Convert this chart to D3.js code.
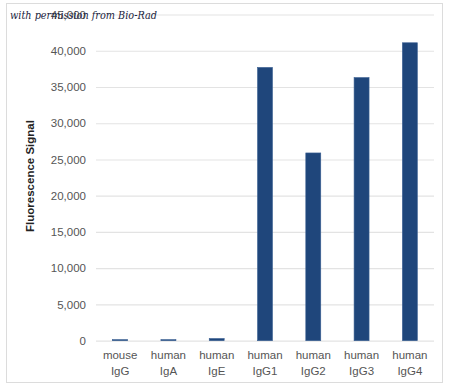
<!DOCTYPE html>
<html><head><meta charset="utf-8">
<script src="https://cdn.jsdelivr.net/npm/d3@7"></script>
<style>body{margin:0;background:#fff}svg{display:block}</style>
</head><body>
<svg id="c" width="450" height="390"></svg>
<script>
const categories = [["mouse","IgG"],["human","IgA"],["human","IgE"],["human","IgG1"],["human","IgG2"],["human","IgG3"],["human","IgG4"]];
const values = [150, 150, 300, 37700, 25900, 36300, 41100];
const yTicks = [0,5000,10000,15000,20000,25000,30000,35000,40000,45000];

const svg = d3.select("#c");
svg.append("rect").attr("x",6.5).attr("y",3.5).attr("width",436).attr("height",379)
  .attr("fill","#fff").attr("stroke","#dcdcdc");

const x = d3.scaleBand().domain(categories.map((d,i)=>i)).range([96,434]).paddingInner(0.69).paddingOuter(0.345);
const y = d3.scaleLinear().domain([0,45000]).range([340.7,14.5]);

const fmt = d3.format(",");
const ya = svg.append("g").attr("transform","translate(96,0)")
  .call(d3.axisLeft(y).tickValues(yTicks).tickFormat(fmt).tickSize(-338).tickPadding(10));
ya.select(".domain").remove();
ya.selectAll(".tick line").attr("stroke","#e3e3e3").attr("stroke-width",1.2);
ya.selectAll(".tick text").attr("fill","#555").attr("font-family","Liberation Sans, Arial, sans-serif").attr("font-size",11.5);

svg.append("g").selectAll("rect").data(values).join("rect")
  .attr("x",(d,i)=>x(i)).attr("width",x.bandwidth())
  .attr("y",d=>y(d)).attr("height",d=>y(0)-y(d))
  .attr("fill","#1f467b").attr("stroke","#3a5f92").attr("stroke-width",0.6);

const xa = svg.append("g").attr("transform","translate(0,340.7)")
  .call(d3.axisBottom(x).tickSize(0).tickFormat(""));
xa.select(".domain").remove();
xa.selectAll(".tick").each(function(d,i){
  const t = d3.select(this).append("text").attr("fill","#555")
    .attr("font-family","Liberation Sans, Arial, sans-serif").attr("font-size",11.5).attr("text-anchor","middle");
  t.append("tspan").attr("x",0).attr("y",18).text(categories[i][0]);
  t.append("tspan").attr("x",0).attr("y",34).text(categories[i][1]);
});

svg.append("text").attr("transform","translate(34,176) rotate(-90)").attr("text-anchor","middle")
  .attr("font-family","Liberation Sans, Arial, sans-serif").attr("font-weight","bold").attr("font-size",11.5)
  .attr("fill","#222").text("Fluorescence Signal");

svg.append("text").attr("x",10).attr("y",19).attr("font-family","DejaVu Serif, serif").attr("font-style","italic")
  .attr("font-size",11.5).attr("fill","#1b2440").attr("textLength",147).attr("lengthAdjust","spacingAndGlyphs")
  .text("with permission from Bio-Rad");
</script>
</body></html>
